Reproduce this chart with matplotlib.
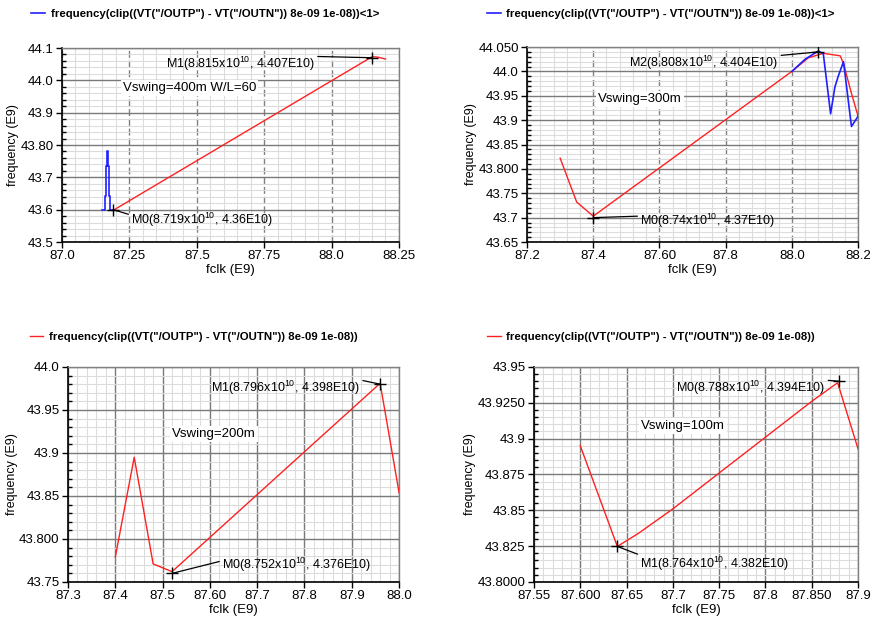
import numpy as np
import matplotlib
matplotlib.use("Agg")
import matplotlib.pyplot as plt
from matplotlib.ticker import FixedLocator, AutoMinorLocator

plt.rcParams['font.family'] = ['Liberation Sans', 'DejaVu Sans']
plt.rcParams['mathtext.fontset'] = 'custom'
plt.rcParams['mathtext.rm'] = 'Liberation Sans'

EXPR = 'frequency(clip((VT("/OUTP") - VT("/OUTN")) 8e-09 1e-08))'

# --- Vswing = 400m, W/L = 60 ---
p1_red_x = [87.19, 88.15, 88.17, 88.20]
p1_red_y = [43.598, 44.073, 44.072, 44.066]
p1_blue_x = [87.147, 87.160, 87.160, 87.163, 87.163, 87.167, 87.167, 87.170,
             87.170, 87.173, 87.173, 87.177, 87.177, 87.190]
p1_blue_y = [43.600, 43.600, 43.642, 43.642, 43.735, 43.735, 43.783, 43.783,
             43.735, 43.735, 43.642, 43.642, 43.600, 43.600]
p1_markers = [("M1", 88.15, 44.07), ("M0", 87.19, 43.60)]

# --- Vswing = 300m ---
p2_red_x = [87.30, 87.35, 87.40, 88.00, 88.05, 88.095, 88.146, 88.156, 88.18, 88.20]
p2_red_y = [43.822, 43.732, 43.703, 44.000, 44.028, 44.037, 44.032, 44.016, 43.955, 43.908]
p2_blue_x = [88.00, 88.04, 88.08, 88.095, 88.117, 88.13, 88.14, 88.156, 88.18, 88.20]
p2_blue_y = [44.000, 44.025, 44.042, 44.036, 43.913, 43.968, 43.990, 44.020, 43.887, 43.908]
p2_markers = [("M2", 88.08, 44.04), ("M0", 87.40, 43.70)]

# --- Vswing = 200m ---
p3_red_x = [87.40, 87.44, 87.48, 87.52, 87.96, 88.00]
p3_red_y = [43.779, 43.895, 43.771, 43.762, 43.981, 43.854]
p3_markers = [("M1", 87.96, 43.98), ("M0", 87.52, 43.76)]

# --- Vswing = 100m ---
p4_red_x = [87.60, 87.64, 87.663, 87.70, 87.75, 87.80, 87.85, 87.878, 87.90]
p4_red_y = [43.895, 43.8248, 43.834, 43.851, 43.876, 43.901, 43.926, 43.939, 43.893]
p4_markers = [("M0", 87.88, 43.94), ("M1", 87.64, 43.8248)]

# tick values and the labels as printed by the viewer
p1_xt = [87.0, 87.25, 87.5, 87.75, 88.0, 88.25]
p1_xl = ["87.0", "87.25", "87.5", "87.75", "88.0", "88.25"]
p1_yt = [43.5, 43.6, 43.7, 43.8, 43.9, 44.0, 44.1]
p1_yl = ["43.5", "43.6", "43.7", "43.80", "43.9", "44.0", "44.1"]

p2_xt = [87.2, 87.4, 87.6, 87.8, 88.0, 88.2]
p2_xl = ["87.2", "87.4", "87.60", "87.8", "88.0", "88.2"]
p2_yt = [43.65, 43.70, 43.75, 43.80, 43.85, 43.90, 43.95, 44.00, 44.05]
p2_yl = ["43.65", "43.7", "43.75", "43.800", "43.85", "43.9", "43.95", "44.0", "44.050"]

p3_xt = [87.3, 87.4, 87.5, 87.6, 87.7, 87.8, 87.9, 88.0]
p3_xl = ["87.3", "87.4", "87.5", "87.60", "87.7", "87.8", "87.9", "88.0"]
p3_yt = [43.75, 43.80, 43.85, 43.90, 43.95, 44.00]
p3_yl = ["43.75", "43.800", "43.85", "43.9", "43.95", "44.0"]

p4_xt = [87.55, 87.60, 87.65, 87.70, 87.75, 87.80, 87.85, 87.90]
p4_xl = ["87.55", "87.600", "87.65", "87.7", "87.75", "87.8", "87.850", "87.9"]
p4_yt = [43.800, 43.825, 43.850, 43.875, 43.900, 43.925, 43.950]
p4_yl = ["43.8000", "43.825", "43.85", "43.875", "43.9", "43.9250", "43.95"]

RED = "#ff2020"
BLUE = "#2020ff"


def marker_label(name, x, y):
    return f"{name}({x / 10:.4g}x10$^{{10}}$, {y / 10:.4g}E10)"


def setup_axes(ax, xt, xl, yt, yl, dashed_x=True):
    ax.set_xlim(xt[0], xt[-1])
    ax.set_ylim(yt[0], yt[-1])
    ax.xaxis.set_major_locator(FixedLocator(xt))
    ax.yaxis.set_major_locator(FixedLocator(yt))
    ax.set_xticklabels(xl)
    ax.set_yticklabels(yl)
    ax.xaxis.set_minor_locator(AutoMinorLocator(5))
    ax.yaxis.set_minor_locator(AutoMinorLocator(5))
    ax.grid(which="minor", color="#dcdcdc", lw=0.8, ls="-")
    ax.grid(which="major", axis="y", color="#7a7a7a", lw=1.0, ls="-")
    if dashed_x:
        ax.grid(which="major", axis="x", color="#808080", lw=1.0, ls=(0, (5, 2)))
    else:
        ax.grid(which="major", axis="x", color="#7a7a7a", lw=1.0, ls="-")
    ax.set_axisbelow(True)
    ax.tick_params(which="major", direction="out", length=4, width=1,
                   labelsize=9.5, pad=2, colors="black")
    ax.tick_params(which="minor", direction="in", length=3, width=1)
    ax.tick_params(axis="x", which="minor", length=0)
    for s in ["left", "bottom"]:
        ax.spines[s].set_color("black")
        ax.spines[s].set_linewidth(1.2)
    for s in ["top", "right"]:
        ax.spines[s].set_color("#808080")
        ax.spines[s].set_linewidth(1.0)
    ax.set_xlabel("fclk (E9)", fontsize=9.5, labelpad=1)
    ax.set_ylabel("frequency (E9)", fontsize=9, labelpad=1)


def add_markers(ax, markers, offsets, relpos):
    for (name, x, y), (dx, dy), rp in zip(markers, offsets, relpos):
        ax.plot([x], [y], marker="+", color="black", ms=8, mew=1.0, zorder=6)
        ha = "right" if dx < 0 else "left"
        ax.annotate(marker_label(name, x, y), xy=(x, y), xytext=(dx, dy),
                    textcoords="offset pixels", ha=ha, va="center",
                    fontsize=9, zorder=7,
                    arrowprops=dict(arrowstyle="-", color="black", lw=0.9,
                                    relpos=rp, shrinkA=0, shrinkB=0))


def add_note(ax, text, x, y):
    ax.text(x, y, text, transform=ax.transAxes, fontsize=9.5, ha="left", va="center",
            bbox=dict(facecolor="white", edgecolor="none", pad=1.5), zorder=5)


fig = plt.figure(figsize=(8.73, 6.18), dpi=100)

ax1 = fig.add_axes([0.0710, 0.6084, 0.3860, 0.3139])
ax2 = fig.add_axes([0.6037, 0.6084, 0.3792, 0.3155])
ax3 = fig.add_axes([0.0779, 0.0583, 0.3792, 0.3479])
ax4 = fig.add_axes([0.6117, 0.0583, 0.3711, 0.3479])

# panel 1
setup_axes(ax1, p1_xt, p1_xl, p1_yt, p1_yl)
ax1.plot(p1_red_x, p1_red_y, color=RED, lw=1.0, zorder=3)
ax1.plot(p1_blue_x, p1_blue_y, color=BLUE, lw=1.2, zorder=4, label=EXPR + "<1>")
add_markers(ax1, p1_markers, [(-57, -6), (18, -10)], [(1, 0.9), (0, 0.75)])
add_note(ax1, "Vswing=400m W/L=60", 0.18, 0.795)

# panel 2
setup_axes(ax2, p2_xt, p2_xl, p2_yt, p2_yl)
ax2.plot(p2_red_x, p2_red_y, color=RED, lw=1.0, zorder=3)
ax2.plot(p2_blue_x, p2_blue_y, color=BLUE, lw=1.2, zorder=4, label=EXPR + "<1>")
add_markers(ax2, p2_markers, [(-40, -11), (47, -3)], [(1, 0.9), (0, 0.75)])
add_note(ax2, "Vswing=300m", 0.215, 0.735)

# panel 3
setup_axes(ax3, p3_xt, p3_xl, p3_yt, p3_yl, dashed_x=False)
ax3.plot(p3_red_x, p3_red_y, color=RED, lw=1.0, zorder=3, label=EXPR)
add_markers(ax3, p3_markers, [(-20, -4), (50, 8)], [(1, 0.95), (0, 0.75)])
add_note(ax3, "Vswing=200m", 0.315, 0.69)

# panel 4
setup_axes(ax4, p4_xt, p4_xl, p4_yt, p4_yl, dashed_x=False)
ax4.plot(p4_red_x, p4_red_y, color=RED, lw=1.0, zorder=3, label=EXPR)
add_markers(ax4, p4_markers, [(-14, -7), (23, -17)], [(1, 0.95), (0, 0.95)])
add_note(ax4, "Vswing=100m", 0.33, 0.725)

# legends sit above each plot area
for ax, (lx, ly) in zip([ax1, ax2, ax3, ax4],
                        [(0.036, 0.978), (0.558, 0.978), (0.034, 0.455), (0.558, 0.455)]):
    ax.legend(loc="center left", bbox_to_anchor=(lx, ly), bbox_transform=fig.transFigure,
              frameon=False, handlelength=1.2, handletextpad=0.5, borderaxespad=0,
              borderpad=0, prop={"size": 8.2, "weight": "bold"})

fig.savefig("out.png", dpi=100)
